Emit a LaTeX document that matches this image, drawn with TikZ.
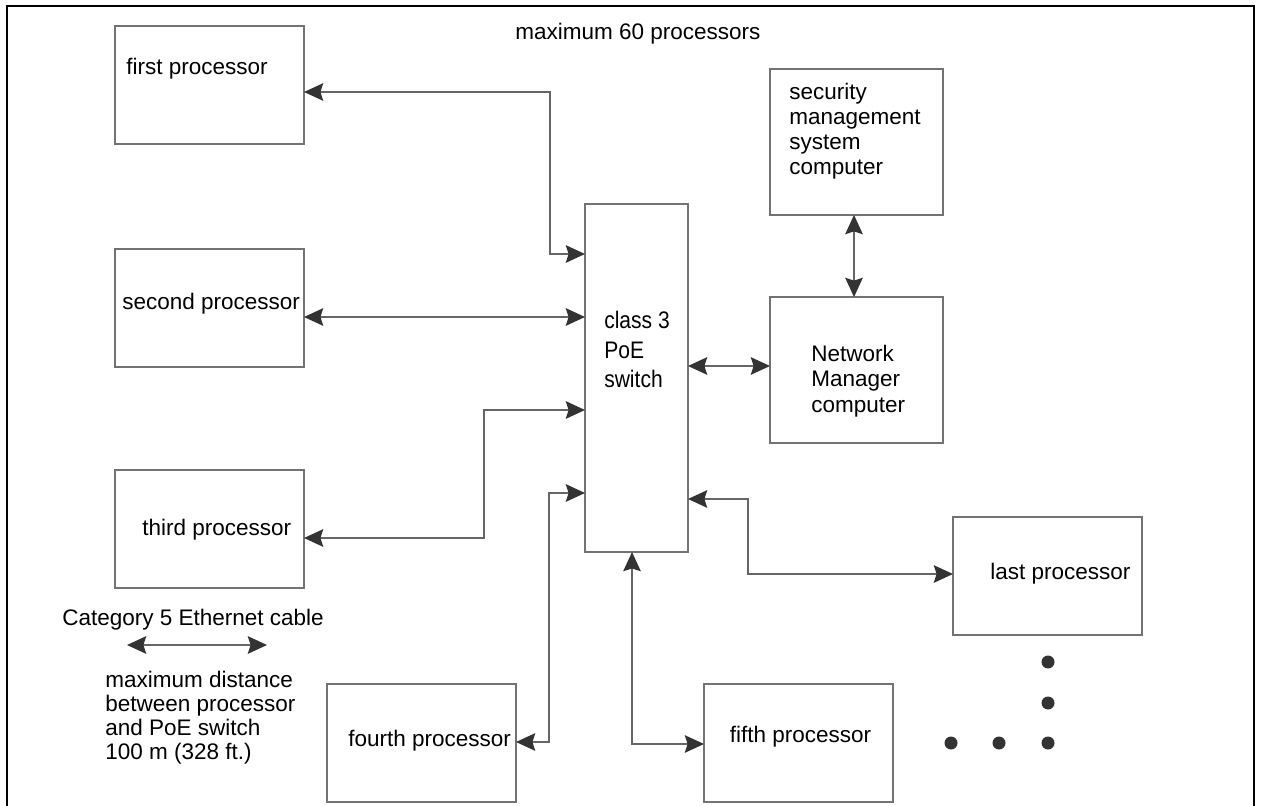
\documentclass[tikz,border=0pt]{standalone}
\usepackage{fontspec}
\setmainfont{Liberation Sans}
\newfontfamily\narrowsans[FakeStretch=0.88]{Liberation Sans}
\usetikzlibrary{arrows.meta, calc}

\begin{document}
\begin{tikzpicture}[x=0.025cm, y=-0.025cm,
  >={Stealth[length=4.8mm, width=4.4mm, inset=0.7mm, color=black!80]},
  box/.style={draw=black!55, line width=1.1pt, inner sep=0pt, outer sep=0pt,
    minimum width=4.725cm, minimum height=2.95cm},
  cable/.style={<->, draw=black!60, line width=1pt},
  txt/.style={anchor=base west, inner sep=0pt, align=left,
    font=\fontsize{16}{17.8}\selectfont}]
  \useasboundingbox (0,0) rectangle (1261,806);
  % marco
  \draw[line width=1.4pt] (7,806) -- (7,6) -- (1254,6) -- (1254,806);

  % cajas
  \node[box] (p1) at (209.5,85) {};
  \node[box] (p2) at (209.5,308) {};
  \node[box] (p3) at (209.5,529) {};
  \node[box] (p4) at (421.5,743) {};
  \node[box] (p5) at (798.5,743) {};
  \node[box] (pn) at (1047.5,576) {};
  \node[box, minimum width=2.575cm, minimum height=8.7cm] (sw) at (636.5,378) {};
  \node[box, minimum width=4.325cm, minimum height=3.65cm] (sms) at (856.5,142) {};
  \node[box, minimum width=4.325cm, minimum height=3.65cm] (nm) at (856.5,370) {};

  % textos (base = ultima linea)
  \node[txt] at (126,75) {first processor};
  \node[txt] at (122,310) {second processor};
  \node[txt] at (142,535) {third processor};
  \node[txt] at (348,746) {fourth processor};
  \node[txt] at (729.5,742) {fifth processor};
  \node[txt] at (990,579) {last processor};
  \node[txt, font=\narrowsans\fontsize{17}{21}\selectfont] at (604,388) {class 3\\PoE\\switch};
  \node[txt] at (789,175) {security\\management\\system\\computer};
  \node[txt] at (811,412) {Network\\Manager\\computer};
  \node[txt] at (515,40) {maximum 60 processors};
  \node[txt] at (62,625) {Category 5 Ethernet cable};
  \node[txt, font=\fontsize{16}{17}\selectfont] at (105,759)
    {maximum distance\\between processor\\and PoE switch\\100 m (328 ft.)};

  % cables
  \coordinate (k1) at (550,92);
  \coordinate (k1b) at (550,254);
  \draw[cable] (p1.east |- k1) -- (k1) -- (k1b) -- (sw.west |- k1b);
  \coordinate (k2) at (400,317);
  \draw[cable] (p2.east |- k2) -- (sw.west |- k2);
  \coordinate (k3) at (484,538);
  \coordinate (k3b) at (484,410);
  \draw[cable] (p3.east |- k3) -- (k3) -- (k3b) -- (sw.west |- k3b);
  \coordinate (k4) at (549,742);
  \coordinate (k4b) at (549,493);
  \draw[cable] (p4.east |- k4) -- (k4) -- (k4b) -- (sw.west |- k4b);
  \coordinate (k5) at (632,744);
  \draw[cable] (sw.south -| k5) -- (k5) -- (p5.west |- k5);
  \coordinate (k6) at (748,499);
  \coordinate (k6b) at (748,574);
  \draw[cable] (sw.east |- k6) -- (k6) -- (k6b) -- (pn.west |- k6b);
  \coordinate (k7) at (720,366);
  \draw[cable] (sw.east |- k7) -- (nm.west |- k7);
  \coordinate (k8) at (854,250);
  \draw[cable] (sms.south -| k8) -- (nm.north -| k8);
  \coordinate (c1) at (127,645);
  \coordinate (c2) at (267,645);
  \draw[cable] (c1) -- (c2);

  % puntos
  \foreach \x/\y in {1048/662, 1048/703, 1048/743, 951/743, 999/743}
    \fill[black!80] (\x,\y) circle[radius=6.5];
\end{tikzpicture}
\end{document}
